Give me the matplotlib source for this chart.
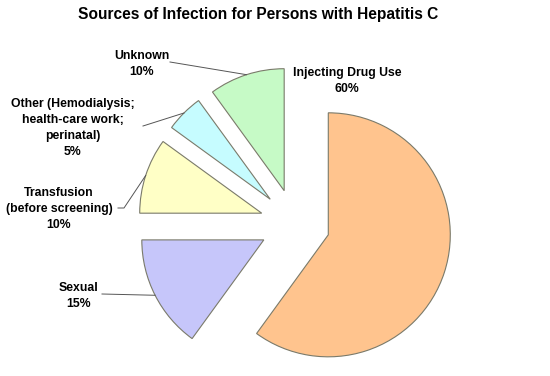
import matplotlib.pyplot as plt
import numpy as np

plt.rcParams['font.family'] = ['Liberation Sans', 'DejaVu Sans']

fuentes = ["Injecting Drug Use", "Sexual", "Transfusion\n(before screening)",
           "Other (Hemodialysis;\nhealth-care work;\nperinatal)", "Unknown"]
porcentajes = [60, 15, 10, 5, 10]
colores = ["#FFC48E", "#C6C6FA", "#FFFFC6", "#C6FCFF", "#C6FAC6"]

ALTO = 376

# posiciones de las etiquetas y comienzo de las lineas guia (en pixeles)
pos_etiquetas = [(347, 81), (79, 296), (59, 209), (73, 128), (142, 64)]
inicio_guias = [None, [(102, 294)], [(118, 208), (124, 208)], [(143, 126)], [(170, 62)]]

fig = plt.figure(figsize=(5.5, 3.76), dpi=100)
ax = fig.add_axes([0, 0, 1, 1])

radio = 122
centro = (295, ALTO - 224)
separacion = [35] * len(porcentajes)

cunas, _ = ax.pie(porcentajes, colors=colores, startangle=90, counterclock=False,
                  radius=radio, center=centro, explode=separacion,
                  wedgeprops=dict(edgecolor="#7a7a6a", linewidth=0.8))

for cuna, nombre, pct, pos, guia in zip(cunas, fuentes, porcentajes, pos_etiquetas, inicio_guias):
    ax.text(pos[0], ALTO - pos[1], f"{nombre}\n{pct}%", ha="center", va="center",
            fontsize=8.8, fontweight="bold", linespacing=1.45)
    if guia:
        ang = np.deg2rad((cuna.theta1 + cuna.theta2) / 2)
        fin = (cuna.center[0] + cuna.r * np.cos(ang), cuna.center[1] + cuna.r * np.sin(ang))
        xs = [p[0] for p in guia] + [fin[0]]
        ys = [ALTO - p[1] for p in guia] + [fin[1]]
        ax.plot(xs, ys, color="#555555", linewidth=0.7)

ax.text(258, ALTO - 15, "Sources of Infection for Persons with Hepatitis C",
        ha="center", va="center", fontsize=11.2, fontweight="bold")

ax.set_xlim(0, 550)
ax.set_ylim(0, ALTO)
ax.set_aspect("equal")
ax.axis("off")

fig.savefig("out.png", dpi=100)
